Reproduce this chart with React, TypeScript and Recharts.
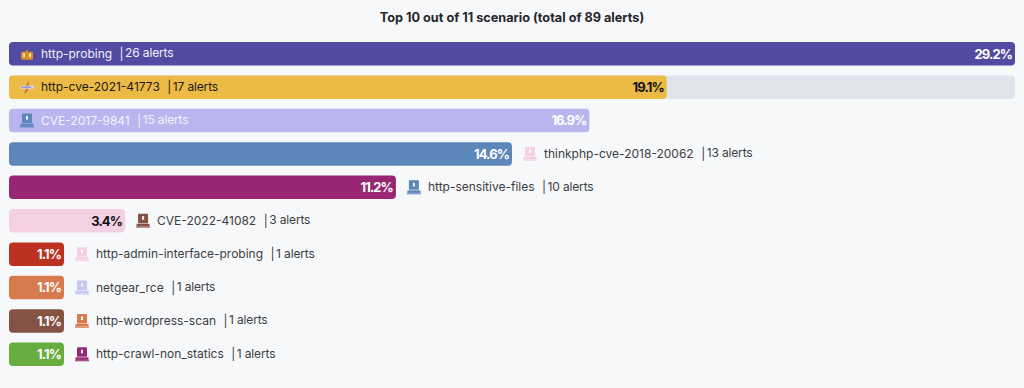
import { BarChart, Bar, XAxis, YAxis, Cell, LabelList, Rectangle } from "recharts";

const scenarios = [
  "http-probing",
  "http-cve-2021-41773",
  "CVE-2017-9841",
  "thinkphp-cve-2018-20062",
  "http-sensitive-files",
  "CVE-2022-41082",
  "http-admin-interface-probing",
  "netgear_rce",
  "http-wordpress-scan",
  "http-crawl-non_statics",
];
const alerts = [26, 17, 15, 13, 10, 3, 1, 1, 1, 1];
const percents = ["29.2%", "19.1%", "16.9%", "14.6%", "11.2%", "3.4%", "1.1%", "1.1%", "1.1%", "1.1%"];

const barColors = ["#524ba3", "#ecbb45", "#b9b5ee", "#5d86bb", "#972775", "#f3d1e2", "#bd3120", "#d67b4d", "#855344", "#67ad3f"];
const iconColors = ["#d98a2b", "#c9793f", "#5d86bb", "#f3d1e2", "#5d86bb", "#855344", "#f3d1e2", "#c9c6f3", "#d67b4d", "#972775"];
const percentColors = ["#fff", "#111", "#fff", "#fff", "#fff", "#111", "#fff", "#fff", "#fff", "#fff"];
const nameColors = ["#f1f0fa", "#1c1a12", "#f4f3fd", "#3b3d42", "#3b3d42", "#3b3d42", "#3b3d42", "#3b3d42", "#3b3d42", "#3b3d42"];

const data = scenarios.map((name, i) => ({ name, alerts: alerts[i] }));

// rows whose name fits inside the bar
const INSIDE_ROWS = 3;
const FONT = "Inter, sans-serif";

function Icon({ x, y, color, index }: any) {
  if (index === 0) {
    return (
      <g transform={`translate(${x},${y})`}>
        <rect x={1} y={-2} width={12} height={8} rx={1.5} fill={color} />
        <rect x={3} y={-0.5} width={2} height={4} fill="#f3e3a0" />
        <rect x={9} y={-0.5} width={2} height={4} fill="#f3e3a0" />
        <rect x={6} y={-3.5} width={2} height={2} fill={color} />
      </g>
    );
  }
  if (index === 1) {
    return (
      <g transform={`translate(${x},${y})`}>
        <path d="M9 -7 L5.5 -1 L7 -1 L4 6 L6 6 L10 -1 L8.5 -1 Z" fill={color} />
        <rect x={0} y={-1.5} width={14} height={3} rx={1} fill="#d8d6f0" />
        <rect x={1} y={-0.5} width={10} height={1} fill="#7b77b8" />
      </g>
    );
  }
  return (
    <g transform={`translate(${x},${y})`}>
      <rect x={2} y={-7} width={10} height={9.5} rx={0.8} fill={color} />
      <rect x={6} y={-4.5} width={2} height={3.5} fill="#f7f8fa" />
      <rect x={0.5} y={3} width={13} height={2.5} fill={color} />
      <rect x={0} y={5.5} width={14} height={1.5} fill={color} opacity={0.8} />
    </g>
  );
}

function RowLabel({ x, y, width, height, index }: any) {
  const anchor = index < INSIDE_ROWS ? x : x + width;
  const cy = y + height / 2;
  return (
    <g fontFamily={FONT}>
      <text
        x={x + width - 3}
        y={cy + 4.8}
        textAnchor="end"
        fontSize={13}
        fontWeight={700}
        letterSpacing={-0.9}
        fill={percentColors[index]}
      >
        {percents[index]}
      </text>
      <Icon x={anchor + 11} y={cy} color={iconColors[index]} index={index} />
      <text x={anchor + 32} y={cy + 4} fontSize={12} fill={nameColors[index]}>
        <tspan>{scenarios[index]}</tspan>
        <tspan dx={7.5}>|</tspan>
        <tspan dx={1.5} letterSpacing={-0.15} dy={-0.5}>{alerts[index]} alerts</tspan>
      </text>
    </g>
  );
}

// only the second row shows its track in the reference
function Track(props: any) {
  if (props.index !== 1) return <g />;
  return (
    <Rectangle
      x={props.x}
      y={props.y}
      width={props.width}
      height={props.height}
      radius={4}
      fill="#e0e4ed"
    />
  );
}

export default function App() {
  return (
    <div style={{ position: "absolute", left: 0, top: 0, width: 1024, height: 388, background: "#f7f8fa", overflow: "hidden" }}>
      <div
        style={{
          position: "absolute",
          top: 10,
          width: 1024,
          textAlign: "center",
          fontFamily: FONT,
          fontSize: 12.7,
          fontWeight: 700,
          color: "#26272b",
        }}
      >
        Top 10 out of 11 scenario (total of 89 alerts)
      </div>
      <BarChart
        width={1024}
        height={388}
        data={data}
        layout="vertical"
        margin={{ top: 37, right: 9, bottom: 17, left: 9 }}
        style={{ position: "absolute", left: 0, top: 0 }}
      >
        <XAxis type="number" hide domain={[0, 26]} />
        <YAxis type="category" dataKey="name" hide />
        <Bar
          dataKey="alerts"
          barSize={23.5}
          radius={4}
          minPointSize={55}
          background={Track}
          isAnimationActive={false}
        >
          {data.map((d, i) => (
            <Cell key={d.name} fill={barColors[i]} />
          ))}
          <LabelList dataKey="alerts" content={RowLabel} />
        </Bar>
      </BarChart>
    </div>
  );
}
